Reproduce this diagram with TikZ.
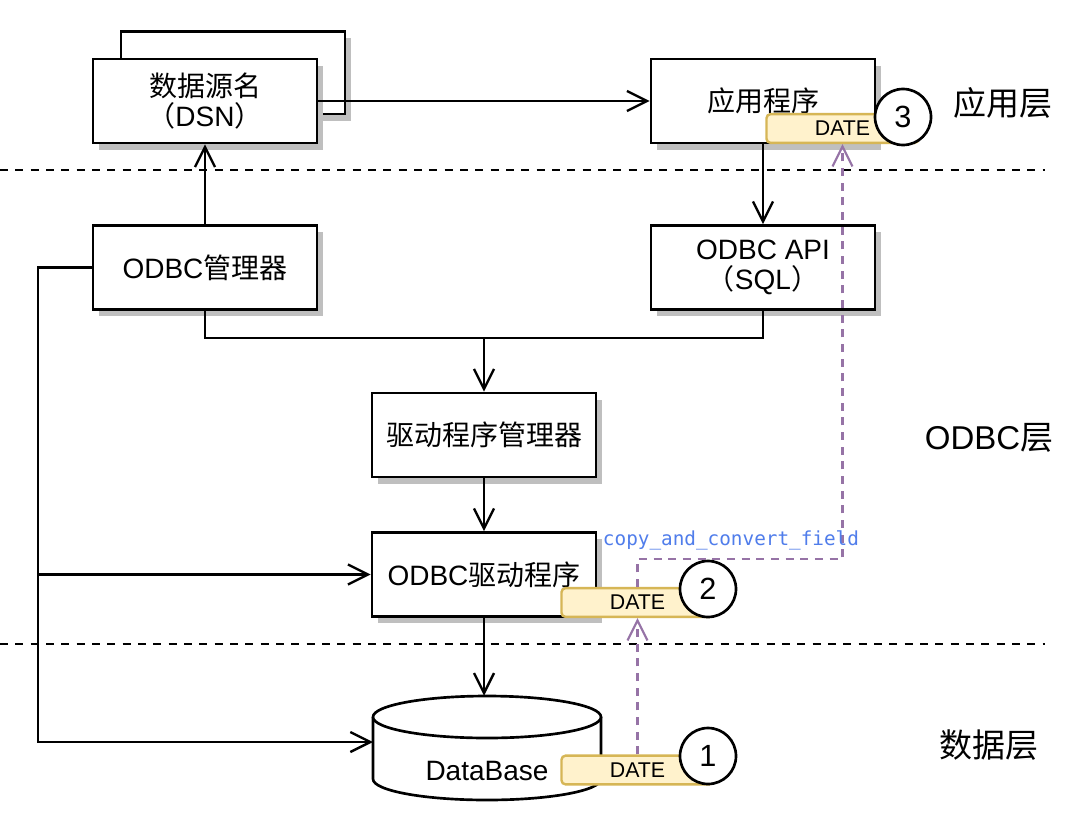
\documentclass[tikz,border=0pt]{standalone}
\usepackage{fontspec}
\setmainfont{Liberation Sans}
\newfontfamily\cjk{Noto Sans CJK SC}
\newfontfamily\codefont{DejaVu Sans Mono}
\usepackage{tikz}
\usetikzlibrary{arrows.meta,shadows}
\definecolor{tagfill}{HTML}{FFF2CC}
\definecolor{tagline}{HTML}{D6B656}
\definecolor{flowpurple}{HTML}{9673A6}
\definecolor{codeblue}{RGB}{80,125,235}
\tikzset{every picture/.append style={x=0.75pt,y=-0.75pt}}
\tikzset{>={Straight Barb[length=15pt,width=15pt]}}
\tikzset{box/.style={draw, line width=2pt, fill=white, minimum width=168pt, minimum height=63pt, inner sep=0pt, align=center, font=\fontsize{21}{22.5}\selectfont, drop shadow={shadow xshift=4.5pt, shadow yshift=-5pt, fill=black!25, opacity=1}}}
\tikzset{tag/.style={draw=tagline, fill=tagfill, line width=1.8pt, rounded corners=3pt, minimum width=114pt, minimum height=21.5pt, inner sep=0pt, font=\fontsize{16}{17}\selectfont}}
\tikzset{num/.style={circle, draw, fill=white, line width=2pt, minimum size=42pt, inner sep=0pt, font=\fontsize{23}{24}\selectfont}}
\tikzset{layer/.style={font=\fontsize{24.75}{26}\selectfont}}
\tikzset{conn/.style={line width=1.8pt}}
\tikzset{flow/.style={draw=flowpurple, line width=1.6pt, dash pattern=on 6pt off 5pt}}
\tikzset{sep/.style={line width=1.8pt, dash pattern=on 6pt off 5.5pt}}

\begin{document}
\begin{tikzpicture}
\path[use as bounding box, fill=white] (0,0) rectangle (1080,828);

\draw[sep] (0,170) -- (1045,170);
\draw[sep] (0,644) -- (1045,644);

\node (dsnback) at (233,72.5)[box, minimum height=62pt]{};
\node (dsn) at (205,101)[box]{{\cjk 数据源名}\\{\cjk （}DSN{\cjk ）}};
\node (app) at (763,101)[box]{\cjk 应用程序};
\node (mgr) at (205,267.5)[box]{ODBC{\cjk 管理器}};
\node (api) at (763,267.5)[box]{ODBC API\\{\cjk （}SQL{\cjk ）}};
\node (drvmgr) at (484,435)[box]{\cjk 驱动程序管理器};
\node (drv) at (484,574.5)[box]{ODBC{\cjk 驱动程序}};

% database cylinder
\node (db) at (487,748)[minimum width=171pt, minimum height=78pt, inner sep=0pt]{};
\draw[line width=2pt, fill=white] (373,717) -- (373,779) arc (180:0:114 and 21) -- (601,717);
\draw[line width=2pt, fill=white] (487,717) ellipse [x radius=114, y radius=21];
\node (dbtext) at (487,771)[font=\fontsize{21}{22}\selectfont]{DataBase};

\coordinate (join) at (484,338);
\coordinate (split) at (38,574.5);
\coordinate (dbin) at (373,742);

\draw[conn, ->] (dsn.east) -- (app.west);
\draw[conn, ->] (app.south) -- (api.north);
\draw[conn, ->] (mgr.north) -- (dsn.south);
\draw[conn] (mgr.south) |- (join) -| (api.south);
\draw[conn, ->] (join) -- (drvmgr.north);
\draw[conn, ->] (drvmgr.south) -- (drv.north);
\draw[conn, ->] (drv.south) -- (drv.south |- db.north);
\draw[conn, ->] (mgr.west) -| (split) |- (dbin);
\draw[conn, ->] (split) -- (drv.west);

\node (tag3) at (842.5,128.5)[tag]{DATE};
\node (tag2) at (637.5,602.5)[tag]{DATE};
\node (tag1) at (637.5,770)[tag]{DATE};
\node (n3) at (903,117)[num]{3};
\node (n2) at (708,589)[num]{2};
\node (n1) at (708,756)[num]{1};

%date flow
\draw[flow, ->] (tag1.north) -- (tag2.south);
\draw[flow, ->] (tag2.north) -- ++(0,-28) -| (tag3.south);
\node (cvt) at (731,540)[text=codeblue, font=\codefont\fontsize{14.5}{16}\selectfont]{copy\_and\_convert\_field};

\node (lapp) at (1003,103)[layer]{\cjk 应用层};
\node (lodbc) at (989,438)[layer]{ODBC{\cjk 层}};
\node (ldata) at (989,745)[layer]{\cjk 数据层};
\end{tikzpicture}
\end{document}
